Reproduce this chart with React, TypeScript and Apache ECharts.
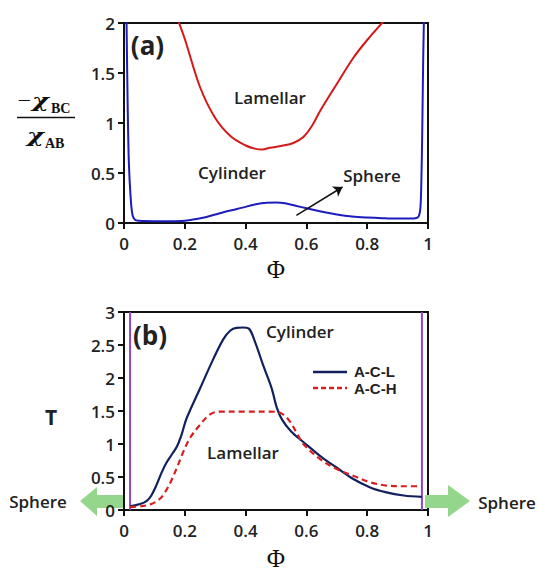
import React, { useEffect, useRef } from "react";
import * as echarts from "echarts";

// ---- Data (Φ, value) ----
const chiBlue: [number, number][] = [
  [0.008, 2.1], [0.012, 1.2], [0.016, 0.6], [0.022, 0.25], [0.028, 0.08], [0.036, 0.032],
  [0.05, 0.022], [0.1, 0.018], [0.15, 0.018], [0.2, 0.023], [0.26, 0.052], [0.3, 0.085],
  [0.35, 0.125], [0.39, 0.154], [0.43, 0.185], [0.47, 0.203], [0.5, 0.205], [0.53, 0.197],
  [0.568, 0.17], [0.6, 0.148], [0.656, 0.11], [0.7, 0.086], [0.75, 0.066], [0.8, 0.055],
  [0.85, 0.048], [0.9, 0.044], [0.94, 0.044], [0.962, 0.05], [0.97, 0.07], [0.975, 0.15],
  [0.978, 0.4], [0.981, 0.9], [0.984, 1.6], [0.987, 2.1],
];
const chiRed: [number, number][] = [
  [0.175, 2.05], [0.2, 1.84], [0.25, 1.36], [0.3, 1.05], [0.35, 0.87], [0.4, 0.775],
  [0.43, 0.744], [0.455, 0.735], [0.48, 0.752], [0.52, 0.772], [0.557, 0.8], [0.59, 0.86],
  [0.62, 0.98], [0.645, 1.12], [0.7, 1.39], [0.754, 1.65], [0.8, 1.83], [0.855, 2.02],
];
const tBlue: [number, number][] = [
  [0.02, 0.055], [0.053, 0.09], [0.075, 0.14], [0.09, 0.22], [0.107, 0.38], [0.124, 0.57],
  [0.14, 0.72], [0.16, 0.86], [0.175, 0.97], [0.19, 1.15], [0.206, 1.39], [0.25, 1.84],
  [0.294, 2.29], [0.327, 2.59], [0.35, 2.72], [0.37, 2.76], [0.39, 2.765], [0.41, 2.75],
  [0.43, 2.56], [0.458, 2.19], [0.486, 1.84], [0.502, 1.56], [0.52, 1.37], [0.55, 1.19],
  [0.59, 1.03], [0.65, 0.8], [0.7, 0.64], [0.75, 0.48], [0.81, 0.34], [0.86, 0.27],
  [0.92, 0.22], [0.98, 0.2],
];
const tRed: [number, number][] = [
  [0.02, 0.045], [0.06, 0.06], [0.09, 0.09], [0.118, 0.17], [0.135, 0.27], [0.151, 0.4],
  [0.173, 0.63], [0.195, 0.88], [0.217, 1.09], [0.25, 1.29], [0.283, 1.45], [0.316, 1.49],
  [0.4, 1.49], [0.48, 1.49], [0.515, 1.47], [0.546, 1.34], [0.57, 1.15], [0.59, 1.0],
  [0.645, 0.77], [0.7, 0.62], [0.754, 0.52], [0.81, 0.42], [0.864, 0.37], [0.92, 0.36],
  [0.98, 0.36],
];
const purpleLeft: [number, number][] = [[0.02, 0], [0.02, 3]];
const purpleRight: [number, number][] = [[0.98, 0], [0.98, 3]];
const sphereArrow: [number, number][] = [[0.567, 0.077], [0.719, 0.36]];
const seriesNames = ["A-C-L", "A-C-H"];

const FONT = "'Open Sans', sans-serif";
const TXT = "#222";
const NAVY = "#12215e";
const RED2 = "#d91e1e";

export default function App() {
  const ref = useRef<HTMLDivElement>(null);
  useEffect(() => {
    const chart = echarts.init(ref.current!, undefined, { renderer: "svg" });
    const axisCommon = {
      type: "value" as const,
      axisLine: { show: true, lineStyle: { color: "#111", width: 2 } },
      axisTick: { show: true, inside: false, length: 6, lineStyle: { color: "#111", width: 2 } },
      splitLine: { show: false },
      axisLabel: { color: TXT, fontFamily: FONT, fontSize: 17, fontWeight: 600 },
    };
    const label = (text: string, x: number, y: number, size = 17, weight: any = 600, align = "center", fam = FONT) => ({
      type: "text",
      x,
      y,
      style: {
        text,
        fill: TXT,
        font: `${weight} ${size}px ${fam}`,
        align,
        verticalAlign: "middle",
      },
    });
    const serif = (text: string, x: number, y: number, size: number, style = "italic", weight = "bold", sx = 1, fam = "'DejaVu Serif', serif") => ({
      type: "text",
      x,
      y,
      scaleX: sx,
      style: {
        text,
        fill: "#111",
        font: `${style} ${weight} ${size}px ${fam}`,
        align: "left",
        verticalAlign: "middle",
      },
    });
    const green = "#93d68c";
    chart.setOption({
      animation: false,
      grid: [
        { left: 124, top: 23, width: 304, height: 200, show: true, borderColor: "#111", borderWidth: 2 },
        { left: 124, top: 312, width: 304, height: 201, show: true, borderColor: "#111", borderWidth: 2 },
      ],
      xAxis: [
        {
          ...axisCommon, gridIndex: 0, min: 0, max: 1, interval: 0.2,
          axisLabel: { ...axisCommon.axisLabel, margin: 12 },
          name: "Φ", nameLocation: "middle", nameGap: 34,
          nameTextStyle: { color: "#111", fontFamily: "'Liberation Serif', serif", fontSize: 25 },
        },
        {
          ...axisCommon, gridIndex: 1, min: 0, max: 1, interval: 0.2,
          axisLabel: { ...axisCommon.axisLabel, margin: 12 },
          name: "Φ", nameLocation: "middle", nameGap: 36,
          nameTextStyle: { color: "#111", fontFamily: "'Liberation Serif', serif", fontSize: 25 },
        },
      ],
      yAxis: [
        { ...axisCommon, gridIndex: 0, min: 0, max: 2, interval: 0.5, axisLabel: { ...axisCommon.axisLabel, margin: 9 } },
        { ...axisCommon, gridIndex: 1, min: 0, max: 3, interval: 0.5, axisLabel: { ...axisCommon.axisLabel, margin: 9 } },
      ],
      series: [
        {
          type: "line", name: "chiBlue", xAxisIndex: 0, yAxisIndex: 0, data: chiBlue,
          smooth: 0.35, showSymbol: false, symbol: "none", lineStyle: { color: "#1d1dbd", width: 2 },
          markLine: {
            silent: true, symbol: ["none", "arrow"], symbolSize: 9,
            lineStyle: { color: "#111", width: 1.5, type: "solid" }, label: { show: false },
            data: [[{ coord: sphereArrow[0] }, { coord: sphereArrow[1] }]],
          },
        },
        {
          type: "line", name: "chiRed", xAxisIndex: 0, yAxisIndex: 0, data: chiRed,
          smooth: 0.35, showSymbol: false, symbol: "none", lineStyle: { color: "#d41919", width: 2 },
        },
        {
          type: "line", name: "purpleL", xAxisIndex: 1, yAxisIndex: 1, data: purpleLeft,
          showSymbol: false, symbol: "none", lineStyle: { color: "#8b45c9", width: 2 },
        },
        {
          type: "line", name: "purpleR", xAxisIndex: 1, yAxisIndex: 1, data: purpleRight,
          showSymbol: false, symbol: "none", lineStyle: { color: "#8b45c9", width: 2 },
        },
        {
          type: "line", name: seriesNames[0], xAxisIndex: 1, yAxisIndex: 1, data: tBlue,
          smooth: 0.35, showSymbol: false, symbol: "none",
          itemStyle: { color: NAVY }, lineStyle: { color: NAVY, width: 2.2 },
        },
        {
          type: "line", name: seriesNames[1], xAxisIndex: 1, yAxisIndex: 1, data: tRed,
          smooth: 0.35, showSymbol: false, symbol: "none",
          itemStyle: { color: RED2 }, lineStyle: { color: RED2, width: 2.2, type: [6, 4] },
        },
      ],
      graphic: [
        label("(a)", 147.5, 44.5, 26, "bold"),
        label("(b)", 150, 335, 26, "bold"),
        label("Lamellar", 270, 97),
        label("Cylinder", 232, 172),
        label("Sphere", 372, 175),
        label("Cylinder", 300, 331),
        label("Lamellar", 243, 452),
        label("T", 51, 417, 21, "bold"),
        label("Sphere", 38, 501),
        label("Sphere", 507, 502),
        // legend (manual)
        { type: "line", shape: { x1: 313, y1: 372, x2: 347, y2: 372 }, style: { stroke: NAVY, lineWidth: 2.5 } },
        { type: "line", shape: { x1: 313, y1: 388, x2: 347, y2: 388 }, style: { stroke: RED2, lineWidth: 2.5, lineDash: [5, 3] } },
        label(seriesNames[0], 354, 371, 15, "bold", "left", "'Liberation Sans', sans-serif"),
        label(seriesNames[1], 354, 388.5, 15, "bold", "left", "'Liberation Sans', sans-serif"),
        // y-axis fraction label (top panel)
        serif("\u2212", 17.5, 100, 20, "normal", "normal", 1.2, "'Liberation Serif', serif"),
        serif("χ", 32, 100, 19, "italic", "bold", 1.35),
        serif("BC", 51, 108.5, 14, "normal", "bold", 1, "'Liberation Serif', serif"),
        { type: "line", shape: { x1: 17, y1: 117.5, x2: 75, y2: 117.5 }, style: { stroke: "#111", lineWidth: 1.5 } },
        serif("χ", 27, 135.5, 19, "italic", "bold", 1.35),
        serif("AB", 45, 143.5, 14, "normal", "bold", 1, "'Liberation Serif', serif"),
        // green arrows
        {
          type: "polygon",
          shape: { points: [[125, 495], [97, 495], [97, 487], [80, 501], [97, 516], [97, 508], [125, 508]] },
          style: { fill: green },
        },
        {
          type: "polygon",
          shape: { points: [[425, 495], [448, 495], [448, 485], [470, 501], [448, 517], [448, 508], [425, 508]] },
          style: { fill: green },
        },
      ],
    });
    return () => chart.dispose();
  }, []);
  return <div ref={ref} style={{ position: "fixed", left: 0, top: 0, width: 538, height: 572, background: "#fff" }} />;
}
